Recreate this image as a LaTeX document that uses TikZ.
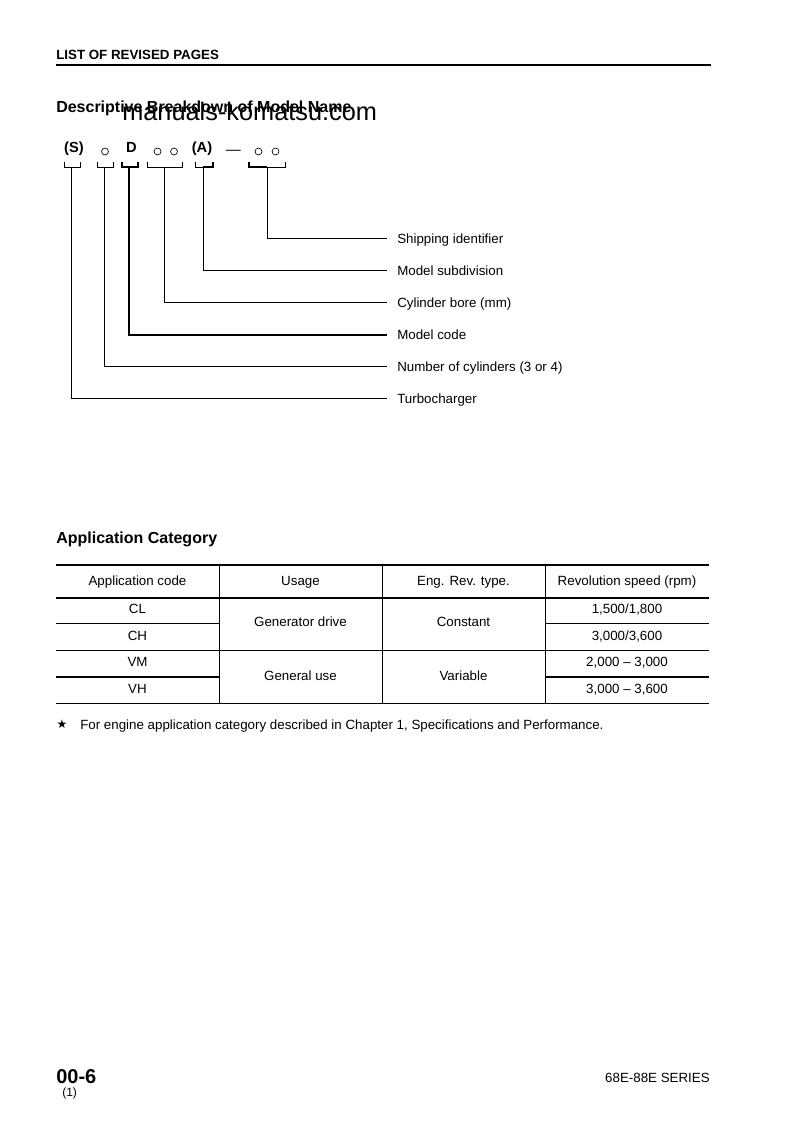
\documentclass[tikz,border=0pt]{standalone}
\usepackage{fontspec}
\setmainfont{Liberation Sans}
\newfontfamily\symfont{DejaVu Sans}
\begin{document}
\begin{tikzpicture}[x=0.75pt,y=-0.75pt,
    lbl/.style={anchor=west, font=\fontsize{10}{12}\selectfont, inner xsep=7.5pt, inner ysep=0pt, text height=9.3pt, text depth=2.1pt},
    cell/.style={font=\fontsize{10}{12}\selectfont, inner sep=0pt, text height=9.3pt, text depth=2.1pt},
    code/.style={font=\bfseries\fontsize{11}{13}\selectfont, inner sep=0pt, text height=8pt, text depth=2.3pt},
    dot/.style={circle, draw, inner sep=0pt, minimum size=5.2pt, line width=0.5pt},
    title/.style={anchor=base west, inner sep=0pt, font=\bfseries\fontsize{12}{14}\selectfont},
    rule/.style={line width=1.5pt},
    hair/.style={line width=0.6pt}]
    \useasboundingbox (0,0) rectangle (793,1123);

    % Kopfzeile
    \node[anchor=base west, inner sep=0pt, font=\bfseries\fontsize{10}{12}\selectfont] (head) at (56,60) {LIST OF REVISED PAGES};
    \draw[rule] (56,65) -- (711,65);

    % Aufschluesselung der Modellbezeichnung
    \node[title] (brk) at (56,113) {Descriptive Breakdown of Model Name};
    \node[anchor=base west, inner sep=0pt, font=\fontsize{19}{22}\selectfont] (wm) at (122,121) {manuals-komatsu.com};

    \node[code] (s) at (74,149) {(S)};
    \node[dot] (c1) at (105,151.5) {};
    \node[code] (d) at (131.5,149) {D};
    \node[dot] (c2) at (157.5,151.5) {};
    \node[dot] (c3) at (174,151.5) {};
    \node[code] (a) at (202,149) {(A)};
    \node[inner sep=0pt, font=\fontsize{11}{13}\selectfont] (dash) at (233.5,152.5) {---};
    \node[dot] (c4) at (258.5,151.5) {};
    \node[dot] (c5) at (275.5,151.5) {};

    % Klammern
    \draw[hair] (64.3,161.7) -- (64.3,167.3) -- (80.7,167.3) -- (80.7,161.7);
    \draw[hair] (97.3,161.7) -- (97.3,167.3) -- (113.3,167.3) -- (113.3,161.7);
    \draw[rule] (121.7,161.7) -- (121.7,167.3) -- (137.7,167.3) -- (137.7,161.7);
    \draw[hair] (147.3,161.7) -- (147.3,167.3) -- (182.3,167.3) -- (182.3,161.7);
    \draw[hair] (195.7,161.7) -- (195.7,167.3) -- (203.3,167.3);
    \draw[rule] (203.3,167.3) -- (212.7,167.3) -- (212.7,161.7);
    \draw[rule] (249.3,161.7) -- (249.3,167.3) -- (267.3,167.3);
    \draw[hair] (267.3,167.3) -- (285,167.3) -- (285,161.7);
    \coordinate (b1) at (71,167.3);
    \coordinate (b2) at (104.3,167.3);
    \coordinate (b3) at (129.3,167.3);
    \coordinate (b4) at (164.7,167.3);
    \coordinate (b5) at (203.3,167.3);
    \coordinate (b6) at (267.3,167.3);

    \node[lbl] (ship) at (387,238.5) {Shipping identifier};
    \node[lbl] (sub) at (387,270.5) {Model subdivision};
    \node[lbl] (bore) at (387,302.5) {Cylinder bore (mm)};
    \node[lbl] (mcode) at (387,334.5) {Model code};
    \node[lbl] (ncyl) at (387,366.5) {Number of cylinders (3 or 4)};
    \node[lbl] (turbo) at (387,398.5) {Turbocharger};

    \draw[hair] (b6) |- (ship.west);
    \draw[hair] (b5) |- (sub.west);
    \draw[hair] (b4) |- (bore.west);
    \draw[rule] (b3) |- (mcode.west);
    \draw[line width=1pt] (b2) |- (ncyl.west);
    \draw[hair] (b1) |- (turbo.west);

    % Anwendungskategorie
    \node[title] (appcat) at (56,543) {Application Category};

    \draw[rule] (56,565) -- (709,565);
    \draw[rule] (56,597.5) -- (709,597.5);
    \draw[hair] (56,623) -- (219,623);
    \draw[hair] (545,623) -- (709,623);
    \draw[hair] (56,650) -- (709,650);
    \draw[rule] (56,677) -- (219,677);
    \draw[rule] (545,677) -- (709,677);
    \draw[hair] (56,703.5) -- (709,703.5);
    \foreach \x in {219,382,545}
        \draw[hair] (\x,565) -- (\x,703.5);

    \node[cell] (h1) at (137.5,581) {Application code};
    \node[cell] (h2) at (300.5,581) {Usage};
    \node[cell] (h3) at (463.5,581) {Eng. Rev. type.};
    \node[cell] (h4) at (627,581) {Revolution speed (rpm)};

    \node[cell] (cl) at (137.5,609) {CL};
    \node[cell] (ch) at (137.5,636) {CH};
    \node[cell] (vm) at (137.5,662) {VM};
    \node[cell] (vh) at (137.5,689) {VH};
    \node[cell] (gen) at (300.5,622) {Generator drive};
    \node[cell] (use) at (300.5,676) {General use};
    \node[cell] (const) at (463.5,622) {Constant};
    \node[cell] (var) at (463.5,676) {Variable};
    \node[cell] (r1) at (627,609) {1,500/1,800};
    \node[cell] (r2) at (627,636) {3,000/3,600};
    \node[cell] (r3) at (627,662) {2,000 -- 3,000};
    \node[cell] (r4) at (627,689) {3,000 -- 3,600};

    % Fussnote
    \node[inner sep=0pt, font=\symfont\fontsize{9}{11}\selectfont] (star) at (62,724.5) {★};
    \node[cell, anchor=west] (note) at (80,724.5) {For engine application category described in Chapter 1, Specifications and Performance.};

    % Fusszeile
    \node[anchor=base west, inner sep=0pt, font=\bfseries\fontsize{15}{17}\selectfont] (page) at (56,1083) {00-6};
    \node[anchor=base west, inner sep=0pt, font=\fontsize{9}{11}\selectfont] (rev) at (62,1096) {(1)};
    \node[anchor=base east, inner sep=0pt, font=\fontsize{10}{12}\selectfont] (series) at (710,1082) {68E-88E SERIES};
\end{tikzpicture}
\end{document}
